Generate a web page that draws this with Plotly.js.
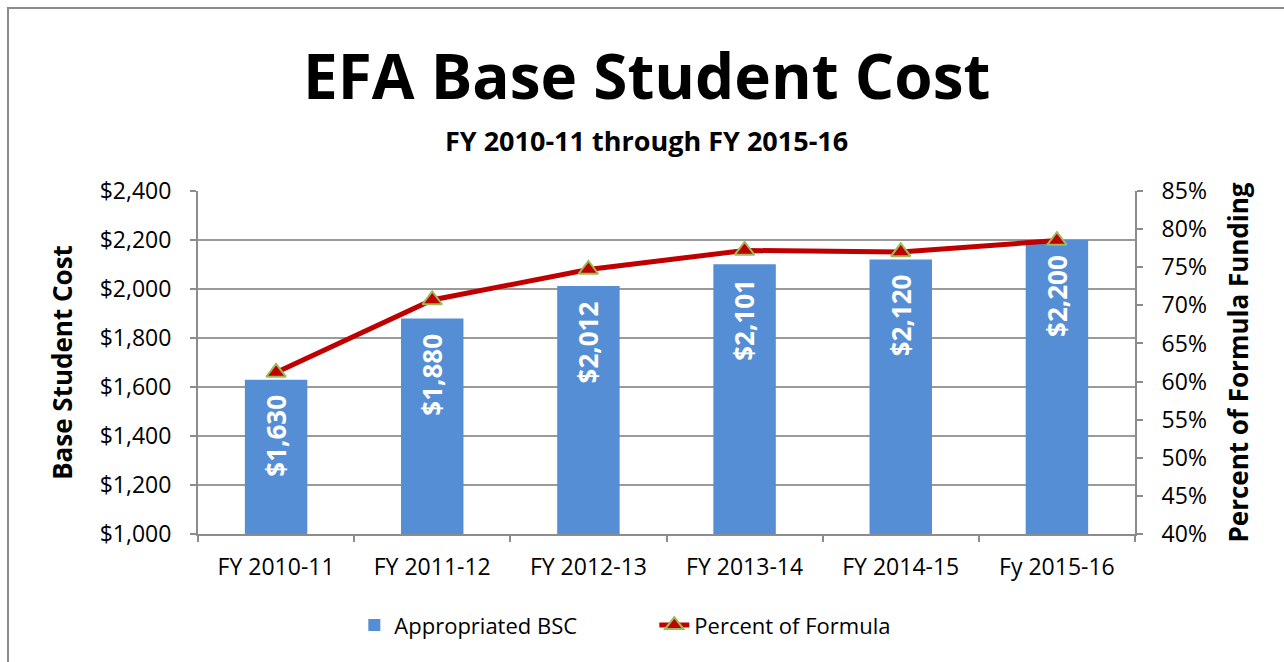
<!DOCTYPE html>
<html>
<head>
<meta charset="utf-8">
<script src="https://cdn.plot.ly/plotly-3.0.1.min.js"></script>
<style>
  html, body { margin: 0; padding: 0; background: #fff; overflow: hidden; }
  #chart { position: absolute; left: 0; top: 0; width: 1284px; height: 662px; }
  #frame { position: absolute; left: 7px; top: 7px; width: 1300px; height: 700px;
           border: 2px solid #8c8c8c; pointer-events: none; box-sizing: border-box; }
</style>
</head>
<body>
<div id="chart"></div>
<div id="frame"></div>
<script>
const categories = ["FY 2010-11", "FY 2011-12", "FY 2012-13", "FY 2013-14", "FY 2014-15", "Fy 2015-16"];
const appropriatedBSC = [1630, 1880, 2012, 2101, 2120, 2200];
const percentOfFormula = [0.612, 0.707, 0.747, 0.772, 0.770, 0.785];

const FONT = "Open Sans, Liberation Sans, sans-serif";

const bars = {
  type: "bar",
  name: "Appropriated BSC",
  x: categories,
  y: appropriatedBSC,
  marker: { color: "#558ED5" },
  hoverinfo: "x+y"
};

const line = {
  type: "scatter",
  mode: "lines+markers",
  name: "Percent of Formula",
  x: categories,
  y: percentOfFormula,
  yaxis: "y2",
  line: { color: "#C00000", width: 5 },
  marker: { symbol: "triangle-up", size: 17, color: "#C00000",
            line: { color: "#9BBB59", width: 2 } }
};

// value labels inside the top of each bar, built from the data arrays
const barLabels = categories.map((c, i) => ({
  x: c, y: appropriatedBSC[i], xref: "x", yref: "y",
  text: "<b>$" + appropriatedBSC[i].toLocaleString("en-US") + "</b>",
  textangle: -90, xanchor: "center", yanchor: "top", yshift: -13,
  showarrow: false, font: { family: FONT, size: 26, color: "#ffffff" }
}));

const layout = {
  width: 1284, height: 662,
  margin: { l: 198, r: 149, t: 191, b: 128 },
  paper_bgcolor: "rgba(0,0,0,0)",
  plot_bgcolor: "#ffffff",
  font: { family: FONT, color: "#000" },
  bargap: 0.6,
  showlegend: true,
  legend: { orientation: "h", x: 0.487, xanchor: "center", y: -0.205, yanchor: "top",
            entrywidth: 255, entrywidthmode: "pixels",
            font: { family: FONT, size: 22, color: "#000" }, traceorder: "normal" },
  annotations: [
    { text: "<b>EFA Base Student Cost</b>", xref: "paper", yref: "paper",
      x: 0.479, y: 1.0 + (191 - 75) / 343, xanchor: "center", yanchor: "middle",
      showarrow: false, font: { family: FONT, size: 62, color: "#000" } },
    { text: "<b>FY 2010-11 through FY 2015-16</b>", xref: "paper", yref: "paper",
      x: 0.479, y: 1.0 + (191 - 140) / 343, xanchor: "center", yanchor: "middle",
      showarrow: false, font: { family: FONT, size: 27, color: "#000" } }
  ].concat(barLabels),
  xaxis: {
    type: "category",
    showline: true, linecolor: "#8c8c8c", linewidth: 2,
    ticks: "outside", tickson: "boundaries", ticklen: 6, tickcolor: "#8c8c8c", tickwidth: 2,
    ticklabelstandoff: 11,
    tickfont: { family: FONT, size: 23, color: "#000" },
    showgrid: false, zeroline: false
  },
  yaxis: {
    range: [1000, 2400], dtick: 200, tick0: 1000,
    tickprefix: "$", tickformat: ",d",
    showline: true, linecolor: "#8c8c8c", linewidth: 2,
    ticks: "outside", ticklen: 6, tickcolor: "#8c8c8c", tickwidth: 2,
    ticklabelstandoff: 14,
    tickfont: { family: FONT, size: 23, color: "#000" },
    showgrid: true, gridcolor: "#9a9a9a", gridwidth: 2, zeroline: false,
    title: { text: "<b>Base Student Cost</b>", font: { family: FONT, size: 26, color: "#000" }, standoff: 20 }
  },
  yaxis2: {
    overlaying: "y", side: "right",
    range: [0.40, 0.85], dtick: 0.05, tick0: 0.40,
    tickformat: ".0%",
    showline: true, linecolor: "#8c8c8c", linewidth: 2,
    ticks: "outside", ticklen: 6, tickcolor: "#8c8c8c", tickwidth: 2,
    ticklabelstandoff: 14,
    tickfont: { family: FONT, size: 23, color: "#000" },
    showgrid: false, zeroline: false,
    title: { text: "<b>Percent of Formula Funding</b>", font: { family: FONT, size: 26, color: "#000" }, standoff: 24 }
  }
};

Plotly.newPlot("chart", [bars, line], layout, { displayModeBar: false, staticPlot: true });
</script>
</body>
</html>
